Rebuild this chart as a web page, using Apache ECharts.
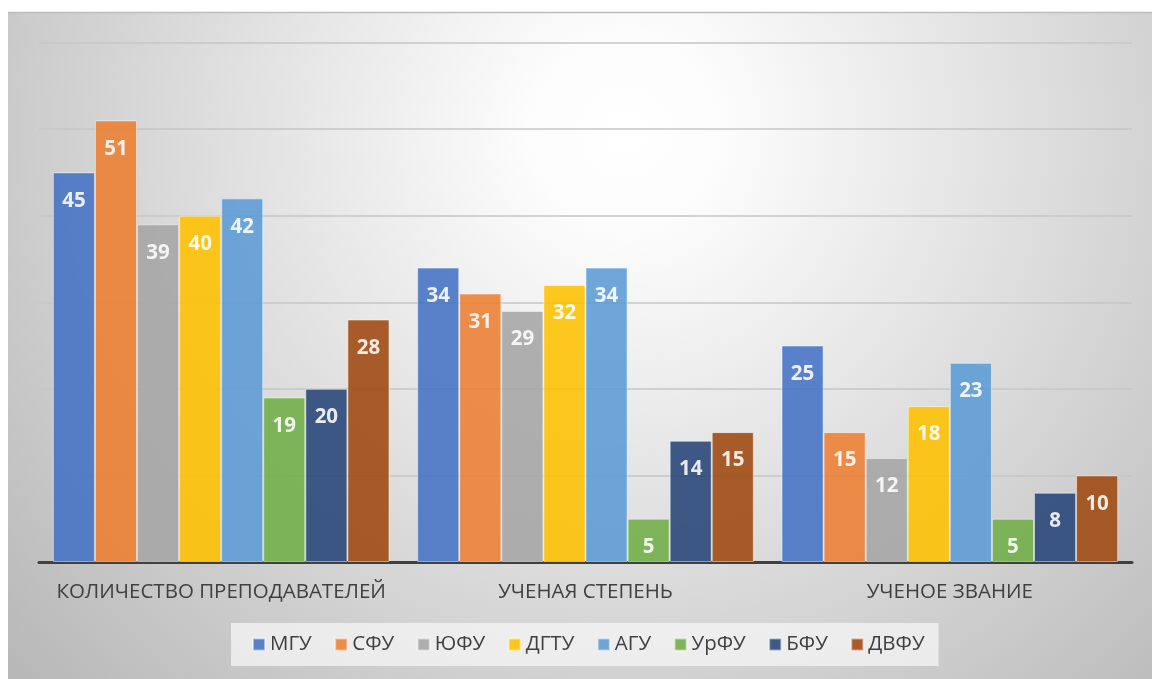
<!DOCTYPE html>
<html>
<head>
<meta charset="utf-8">
<script src="https://cdn.jsdelivr.net/npm/echarts@6/dist/echarts.min.js"></script>
<style>
html, body { margin: 0; padding: 0; background: #fff; }
#chart_div { width: 1152px; height: 679px; }
</style>
</head>
<body>
<div id="chart_div"></div>
<script>
// категории по оси X
var categories = ['КОЛИЧЕСТВО ПРЕПОДАВАТЕЛЕЙ', 'УЧЕНАЯ СТЕПЕНЬ', 'УЧЕНОЕ ЗВАНИЕ'];
// вузы (серии)
var names = ['МГУ', 'СФУ', 'ЮФУ', 'ДГТУ', 'АГУ', 'УрФУ', 'БФУ', 'ДВФУ'];
// значения по каждому вузу
var mgu = [45, 34, 25];
var sfu = [51, 31, 15];
var yufu = [39, 29, 12];
var dgtu = [40, 32, 18];
var agu = [42, 34, 23];
var urfu = [19, 5, 5];
var bfu = [20, 14, 8];
var dvfu = [28, 15, 10];

var valuesArr = [mgu, sfu, yufu, dgtu, agu, urfu, bfu, dvfu];
var colors = ['#4472C4', '#ED7D31', '#A5A5A5', '#FFC000', '#5B9BD5', '#70AD47', '#264478', '#9E480E'];

function createChart() {
	var myChart = echarts.init(document.getElementById('chart_div'));

	var series = [];
	for (var i = 0; i < names.length; i++) {
		series.push({
			name: names[i],
			type: 'bar',
			data: valuesArr[i],
			barGap: '0%',
			barCategoryGap: '7.6%',
			itemStyle: {
				color: colors[i],
				opacity: 0.88,
				borderColor: 'rgba(255,255,255,0.55)',
				borderWidth: 1
			},
			label: {
				show: true,
				position: 'insideTop',
				distance: 18,
				color: '#fff',
				fontSize: 20.5,
				fontWeight: 'bold',
				fontFamily: 'Open Sans'
			}
		});
	}

	var option = {
		animation: false,
		color: colors,
		graphic: [{
			type: 'rect',
			z: -10,
			silent: true,
			shape: { x: 8, y: 12, width: 1144, height: 667 },
			style: {
				fill: {
					type: 'radial', x: 0.54, y: 0.18, r: 1.22,
					colorStops: [
						{ offset: 0, color: '#ffffff' },
						{ offset: 0.12, color: '#fcfcfc' },
						{ offset: 1, color: '#b8b8b8' }
					]
				}
			}
		}, {
			type: 'line',
			z: -9,
			silent: true,
			shape: { x1: 8, y1: 12.5, x2: 1152, y2: 12.5 },
			style: { stroke: '#bdbdbd', lineWidth: 1.5 }
		}],
		legend: {
			data: names,
			left: 231,
			top: 623,
			padding: [11, 14, 11, 21],
			backgroundColor: 'rgba(245,245,245,0.75)',
			itemWidth: 12,
			itemHeight: 12,
			itemGap: 22.5,
			icon: 'rect',
			textStyle: { color: '#404040', fontSize: 20.5, fontFamily: 'Open Sans' }
		},
		grid: {
			left: 39,
			right: 20,
			top: 42.5,
			bottom: 117,
			containLabel: false
		},
		xAxis: {
			type: 'category',
			data: categories,
			axisTick: { show: false },
			axisLine: { lineStyle: { color: '#404040', width: 3 } },
			axisLabel: {
				interval: 0,
				color: '#404040',
				fontSize: 20.5,
				margin: 20,
				fontFamily: 'Open Sans'
			}
		},
		yAxis: {
			type: 'value',
			min: 0,
			max: 60,
			interval: 10,
			axisLabel: { show: false },
			axisLine: { show: false },
			axisTick: { show: false },
			splitLine: { lineStyle: { color: '#c6c6c6', width: 1.5 } }
		},
		series: series
	};

	myChart.setOption(option);
}

createChart();
</script>
</body>
</html>
